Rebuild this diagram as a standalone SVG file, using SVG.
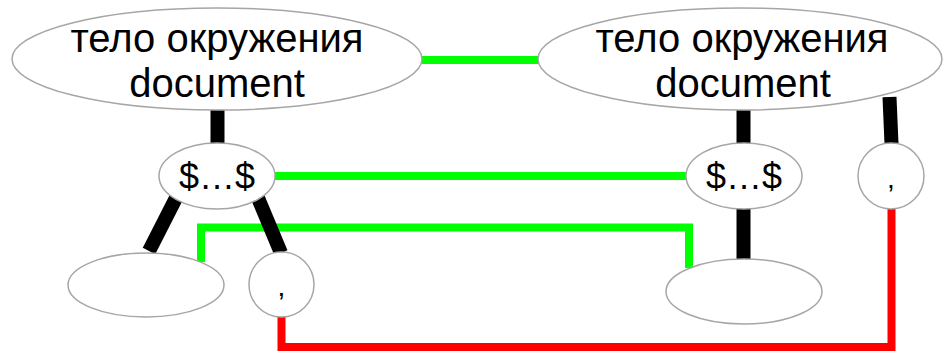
<svg xmlns="http://www.w3.org/2000/svg" width="943" height="351" viewBox="0 0 943 351">
<style>
.node ellipse{fill:#fff;stroke:#a6a6a6;stroke-width:1.5}
text{font-family:"Liberation Sans",Arial,sans-serif;fill:#000;text-anchor:middle}
.big{font-size:40px}
.mid{font-size:36px}
.sm{font-size:28px}
.blk{stroke:#000;stroke-width:14;fill:none}
.grn{stroke:#00ff00;stroke-width:8;fill:none}
.red{stroke:#ff0000;stroke-width:8;fill:none}
</style>
<g id="connectors">
<line class="grn" x1="422" y1="60" x2="540" y2="60"/>
<line class="grn" x1="275" y1="176" x2="687" y2="176"/>
<polyline class="grn" points="201,262 201,227.5 689,227.5 689,268"/>
<polyline class="red" points="281.5,317 281.5,347 891.5,347 891.5,208"/>
<line class="blk" x1="217.5" y1="109" x2="217.5" y2="144"/>
<line class="blk" x1="176" y1="198" x2="149" y2="251"/>
<line class="blk" x1="258" y1="198" x2="281" y2="253"/>
<line class="blk" x1="743.5" y1="109" x2="743.5" y2="144"/>
<line class="blk" x1="743.5" y1="207" x2="743.5" y2="260"/>
<line class="blk" x1="889.5" y1="97" x2="891.5" y2="144"/>
</g>
<g id="n1" class="node">
<ellipse cx="217" cy="59" rx="205" ry="51"/>
<text class="big" x="217" y="52">тело окружения</text>
<text class="big" x="217" y="97">document</text>
</g>
<g id="n2" class="node">
<ellipse cx="740" cy="59" rx="202" ry="51"/>
<text class="big" x="742" y="52">тело окружения</text>
<text class="big" x="743" y="97">document</text>
</g>
<g id="n3" class="node">
<ellipse cx="217" cy="176" rx="58" ry="33"/>
<text class="mid" x="217" y="189">$…$</text>
</g>
<g id="n4" class="node">
<ellipse cx="744" cy="176" rx="58" ry="33"/>
<text class="mid" x="744" y="189">$…$</text>
</g>
<g id="n5" class="node">
<ellipse cx="891" cy="176" rx="33" ry="33"/>
<text class="sm" x="891" y="188">,</text>
</g>
<g id="n6" class="node">
<ellipse cx="146" cy="285" rx="78" ry="32"/>
</g>
<g id="n7" class="node">
<ellipse cx="281.5" cy="284.5" rx="32.5" ry="32.5"/>
<text class="sm" x="281.5" y="296">,</text>
</g>
<g id="n8" class="node">
<ellipse cx="744" cy="291.5" rx="78" ry="32.5"/>
</g>
</svg>
